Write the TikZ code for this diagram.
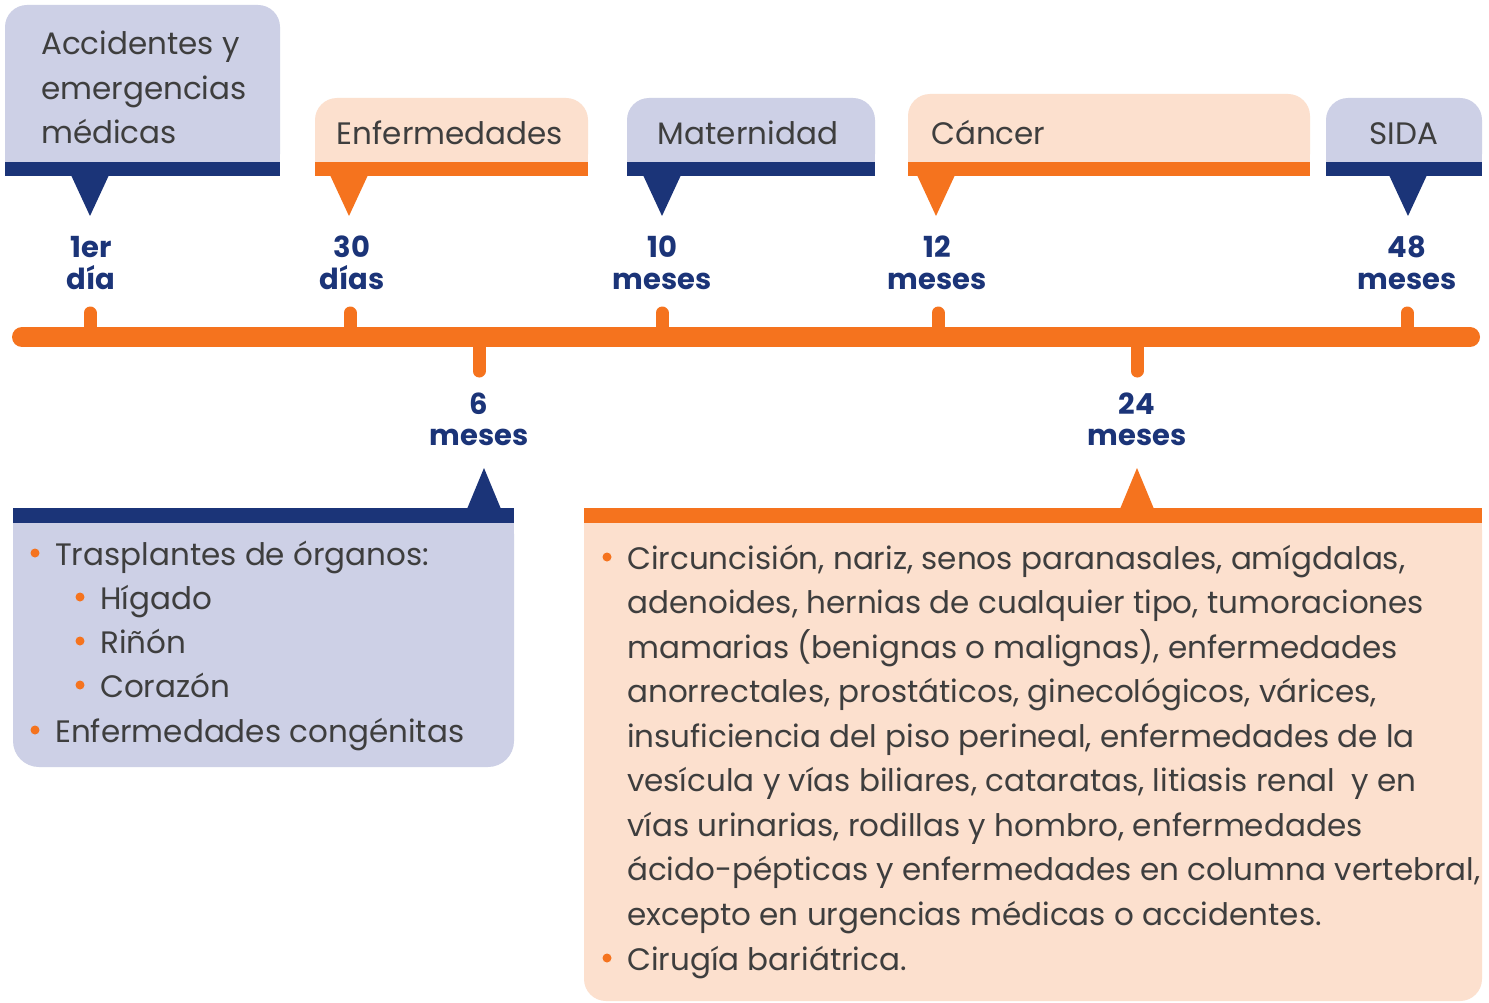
\documentclass[tikz,border=0pt]{standalone}
\usepackage{fontspec}
\setmainfont{Poppins}
\definecolor{lav}{RGB}{205,208,230}
\definecolor{navy}{RGB}{27,52,120}
\definecolor{orng}{RGB}{245,115,30}
\definecolor{peach}{RGB}{252,224,206}
\definecolor{txt}{RGB}{62,62,62}
\newcommand\tlbox[6]{%
  \fill[#4,rounded corners=22] (#1,#3) rectangle (#2,176);
  \fill[#4] (#1,120) rectangle (#2,176);
  \fill[#5] (#1,162) rectangle (#2,176);
  \fill[#5] (#6-19,175) -- (#6+19,175) -- (#6,216) -- cycle;}
\tikzset{
  ttl/.style={text=txt,font=\fontsize{31}{45}\selectfont,inner sep=0},
  body/.style={text=txt,font=\fontsize{31}{44.5}\selectfont,inner sep=0,anchor=base west},
  lbl/.style={text=navy,font=\fontsize{29}{31}\selectfont\bfseries,inner sep=0,anchor=base},
  bul/.style={fill=orng,circle,inner sep=0,minimum size=9},
  tick/.style={draw=orng,line width=13,line cap=round},
}
\begin{document}
\begin{tikzpicture}[x=1pt,y=-1pt]
\useasboundingbox (0,0) rectangle (1489,1003);
\fill[white] (0,0) rectangle (1489,1003);
% top boxes
\tlbox{5}{280}{5}{lav}{navy}{90}
\tlbox{315}{588}{98}{peach}{orng}{349}
\tlbox{627}{875}{98}{lav}{navy}{662}
\tlbox{908}{1310}{94}{peach}{orng}{936}
\tlbox{1326}{1482}{98}{lav}{navy}{1408}
\node[ttl,anchor=base west] (acc1) at (41,55) {Accidentes y};
\node[ttl,anchor=base west] (acc2) at (41,100) {emergencias};
\node[ttl,anchor=base west] (acc3) at (41,144) {médicas};
\node[ttl,anchor=base] (enf) at (450,145) {Enfermedades};
\node[ttl,anchor=base] (mat) at (748,145) {Maternidad};
\node[ttl,anchor=base west] (can) at (931,145) {Cáncer};
\node[ttl,anchor=base] (sida) at (1404,145) {SIDA};
% timeline
\draw[tick] (90,337) -- (90,313);
\draw[tick] (350,337) -- (350,313);
\draw[tick] (662,337) -- (662,313);
\draw[tick] (938,337) -- (938,313);
\draw[tick] (1407,337) -- (1407,313);
\draw[tick] (479,337) -- (479,371);
\draw[tick] (1137,337) -- (1137,371);
\draw[orng,line width=20,line cap=round] (22,337) -- (1470,337);
% labels
\node[lbl] (l1a) at (91,258) {1er};
\node[lbl] (l1b) at (91,289) {día};
\node[lbl] (l2a) at (352,258) {30};
\node[lbl] (l2b) at (352,289) {días};
\node[lbl] (l3a) at (662,258) {10};
\node[lbl] (l3b) at (662,289) {meses};
\node[lbl] (l4a) at (937,258) {12};
\node[lbl] (l4b) at (937,289) {meses};
\node[lbl] (l5a) at (1407,258) {48};
\node[lbl] (l5b) at (1407,289) {meses};
\node[lbl] (l6a) at (479,414) {6};
\node[lbl] (l6b) at (479,445) {meses};
\node[lbl] (l7a) at (1137,414) {24};
\node[lbl] (l7b) at (1137,445) {meses};
% bottom left box
\fill[lav,rounded corners=26] (13,508) rectangle (514,767);
\fill[lav] (13,508) rectangle (514,600);
\fill[navy] (13,508) rectangle (514,523);
\fill[navy] (467,509) -- (501,509) -- (484,468) -- cycle;
\node[bul] (b1) at (35,553) {};
\node[body] (t1) at (55,565) {Trasplantes de órganos:};
\node[bul] (b2) at (80,597) {};
\node[body] (t2) at (100,609) {Hígado};
\node[bul] (b3) at (80,641) {};
\node[body] (t3) at (100,653) {Riñón};
\node[bul] (b4) at (80,685) {};
\node[body] (t4) at (100,697) {Corazón};
\node[bul] (b5) at (35,730) {};
\node[body] (t5) at (55,742) {Enfermedades congénitas};
% bottom right box
\fill[peach,rounded corners=22] (584,508) rectangle (1482,1001);
\fill[peach] (584,508) rectangle (1482,600);
\fill[orng] (584,508) rectangle (1482,523);
\fill[orng] (1120,509) -- (1154,509) -- (1137,468) -- cycle;
\node[bul] (c1) at (607,557) {};
\foreach \t [count=\i] in {%
  {Circuncisión, nariz, senos paranasales, amígdalas,},
  {adenoides, hernias de cualquier tipo, tumoraciones},
  {mamarias (benignas o malignas), enfermedades},
  {anorrectales, prostáticos, ginecológicos, várices,},
  {insuficiencia del piso perineal, enfermedades de la},
  {vesícula y vías biliares, cataratas, litiasis renal\ \ y en},
  {vías urinarias, rodillas y hombro, enfermedades},
  {ácido-pépticas y enfermedades en columna vertebral,},
  {excepto en urgencias médicas o accidentes.}}
  {\node[body] (r\i) at (627,{569+44.5*(\i-1)}) {\t};}
\node[bul] (c2) at (607,958) {};
\node[body] (r10) at (627,970) {Cirugía bariátrica.};
\end{tikzpicture}
\end{document}
